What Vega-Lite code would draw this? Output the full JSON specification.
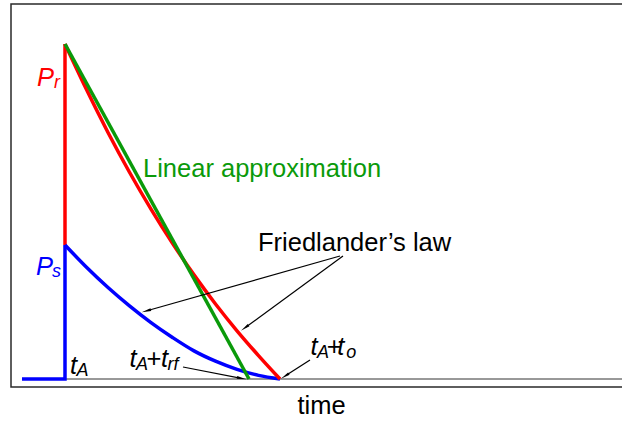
{
  "$schema": "https://vega.github.io/schema/vega-lite/v6.json",
  "width": 620,
  "height": 383,
  "autosize": {"type": "none"},
  "padding": {"left": 11, "top": 4, "right": 0, "bottom": 34},
  "background": "white",
  "config": {"view": {"stroke": "#2a2a2a", "strokeWidth": 1.5}, "font": "Liberation Sans"},
  "datasets": {
    "steps": [
      {"series": "side-on", "i": 0, "t": 0, "p": 0},
      {"series": "side-on", "i": 1, "t": 1, "p": 0},
      {"series": "side-on", "i": 2, "t": 1, "p": 1},
      {"series": "reflected", "i": 0, "t": 1, "p": 1},
      {"series": "reflected", "i": 1, "t": 1, "p": 2.5}
    ],
    "decays": [
      {"series": "side-on", "t": 1.0, "p": 1.0},
      {"series": "side-on", "t": 1.5, "p": 0.834},
      {"series": "side-on", "t": 2.0, "p": 0.683},
      {"series": "side-on", "t": 2.5, "p": 0.546},
      {"series": "side-on", "t": 3.0, "p": 0.421},
      {"series": "side-on", "t": 3.5, "p": 0.31},
      {"series": "side-on", "t": 4.0, "p": 0.21},
      {"series": "side-on", "t": 4.5, "p": 0.133},
      {"series": "side-on", "t": 5.0, "p": 0.072},
      {"series": "side-on", "t": 5.5, "p": 0.027},
      {"series": "side-on", "t": 6.0, "p": 0.0},
      {"series": "reflected", "t": 1.0, "p": 2.5},
      {"series": "reflected", "t": 1.5, "p": 2.16},
      {"series": "reflected", "t": 2.0, "p": 1.84},
      {"series": "reflected", "t": 2.5, "p": 1.543},
      {"series": "reflected", "t": 3.0, "p": 1.268},
      {"series": "reflected", "t": 3.5, "p": 1.013},
      {"series": "reflected", "t": 4.0, "p": 0.777},
      {"series": "reflected", "t": 4.5, "p": 0.56},
      {"series": "reflected", "t": 5.0, "p": 0.36},
      {"series": "reflected", "t": 5.5, "p": 0.175},
      {"series": "reflected", "t": 6.0, "p": 0.0},
      {"series": "linear", "t": 1.0, "p": 2.5},
      {"series": "linear", "t": 5.28, "p": 0.0}
    ],
    "arrows": [
      {"t": 7.395, "p": 0.918, "t2": 2.926, "p2": 0.511, "angle": 254},
      {"t": 7.465, "p": 0.918, "t2": 5.21, "p2": 0.388, "angle": 234},
      {"t": 3.744, "p": 0.0896, "t2": 5.072, "p2": 0.0071, "angle": 101},
      {"t": 6.698, "p": 0.142, "t2": 6.144, "p2": 0.0276, "angle": 237}
    ],
    "labels": [
      {"kind": "main", "series": "reflected", "label": "P", "t": 0.349, "p": 2.187},
      {"kind": "main", "series": "side-on", "label": "P", "t": 0.326, "p": 0.776},
      {"kind": "main", "series": "note", "label": "t", "t": 1.116, "p": 0.037},
      {"kind": "main", "series": "note", "label": "t", "t": 2.5, "p": 0.0896},
      {"kind": "main", "series": "note", "label": "t", "t": 3.233, "p": 0.0896},
      {"kind": "main", "series": "note", "label": "t", "t": 6.709, "p": 0.179},
      {"kind": "main", "series": "note", "label": "t", "t": 7.33, "p": 0.179},
      {"kind": "sub", "series": "reflected", "label": "r", "t": 0.744, "p": 2.172},
      {"kind": "sub", "series": "side-on", "label": "s", "t": 0.698, "p": 0.761},
      {"kind": "sub", "series": "note", "label": "A", "t": 1.267, "p": 0.0224},
      {"kind": "sub", "series": "note", "label": "A", "t": 2.651, "p": 0.067},
      {"kind": "sub", "series": "note", "label": "rf", "t": 3.384, "p": 0.067},
      {"kind": "sub", "series": "note", "label": "A", "t": 6.86, "p": 0.157},
      {"kind": "sub", "series": "note", "label": "o", "t": 7.54, "p": 0.157},
      {"kind": "plain", "series": "note", "label": "+", "t": 2.895, "p": 0.0896},
      {"kind": "plain", "series": "note", "label": "+", "t": 7.09, "p": 0.179},
      {"kind": "plain", "series": "linear", "label": "Linear approximation", "t": 2.814, "p": 1.507},
      {"kind": "plain", "series": "note", "label": "Friedlander’s law", "t": 5.488, "p": 0.955}
    ]
  },
  "encoding": {
    "x": {
      "field": "t", "type": "quantitative",
      "scale": {"domain": [-0.2558, 14.163], "nice": false, "zero": false},
      "axis": {"title": "time", "domain": false, "ticks": false, "labels": false, "grid": false,
               "titleFontSize": 25.5, "titleFont": "Liberation Sans", "titleFontWeight": "normal",
               "titleColor": "#000000", "titlePadding": 6}
    },
    "y": {
      "field": "p", "type": "quantitative",
      "scale": {"domain": [-0.0597, 2.7985], "nice": false, "zero": false},
      "axis": null
    }
  },
  "layer": [
    {
      "data": {"values": [{"t": 0, "t2": 14.3, "p": 0}]},
      "mark": {"type": "rule", "color": "#333333", "strokeWidth": 1, "clip": true},
      "encoding": {"x2": {"field": "t2"}}
    },
    {
      "data": {"name": "steps"},
      "mark": {"type": "line", "strokeWidth": 3.5, "strokeJoin": "miter", "strokeCap": "butt"},
      "encoding": {
        "color": {"field": "series", "type": "nominal", "legend": null,
                  "scale": {"domain": ["side-on", "reflected", "linear", "note"], "range": ["#0000ff", "#ff0000", "#0a9a0a", "#000000"]}},
        "order": {"field": "i"}
      }
    },
    {
      "data": {"name": "decays"},
      "mark": {"type": "line", "strokeWidth": 3.5, "interpolate": "monotone", "strokeCap": "butt"},
      "encoding": {
        "color": {"field": "series", "type": "nominal", "legend": null,
                  "scale": {"domain": ["side-on", "reflected", "linear", "note"], "range": ["#0000ff", "#ff0000", "#0a9a0a", "#000000"]}}
      }
    },
    {
      "data": {"name": "arrows"},
      "mark": {"type": "rule", "color": "#000000", "strokeWidth": 1.2},
      "encoding": {"x2": {"field": "t2"}, "y2": {"field": "p2"}}
    },
    {
      "data": {"name": "arrows"},
      "mark": {"type": "point", "shape": "wedge", "filled": true, "color": "#000000", "opacity": 1, "size": 120},
      "encoding": {
        "x": {"field": "t2", "type": "quantitative"},
        "y": {"field": "p2", "type": "quantitative"},
        "angle": {"field": "angle", "type": "quantitative", "scale": null}
      }
    },
    {
      "data": {"name": "labels"},
      "transform": [{"filter": "datum.kind === 'main'"}],
      "mark": {"type": "text", "font": "Liberation Sans", "fontStyle": "italic", "fontSize": 25.5, "align": "left", "baseline": "alphabetic"},
      "encoding": {
        "text": {"field": "label"},
        "color": {"field": "series", "type": "nominal", "legend": null,
                  "scale": {"domain": ["side-on", "reflected", "linear", "note"], "range": ["#0000ff", "#ff0000", "#0a9a0a", "#000000"]}}
      }
    },
    {
      "data": {"name": "labels"},
      "transform": [{"filter": "datum.kind === 'sub'"}],
      "mark": {"type": "text", "font": "Liberation Sans", "fontStyle": "italic", "fontSize": 18, "align": "left", "baseline": "alphabetic"},
      "encoding": {
        "text": {"field": "label"},
        "color": {"field": "series", "type": "nominal", "legend": null,
                  "scale": {"domain": ["side-on", "reflected", "linear", "note"], "range": ["#0000ff", "#ff0000", "#0a9a0a", "#000000"]}}
      }
    },
    {
      "data": {"name": "labels"},
      "transform": [{"filter": "datum.kind === 'plain'"}],
      "mark": {"type": "text", "font": "Liberation Sans", "fontSize": 25.5, "align": "left", "baseline": "alphabetic"},
      "encoding": {
        "text": {"field": "label"},
        "color": {"field": "series", "type": "nominal", "legend": null,
                  "scale": {"domain": ["side-on", "reflected", "linear", "note"], "range": ["#0000ff", "#ff0000", "#0a9a0a", "#000000"]}}
      }
    }
  ]
}
